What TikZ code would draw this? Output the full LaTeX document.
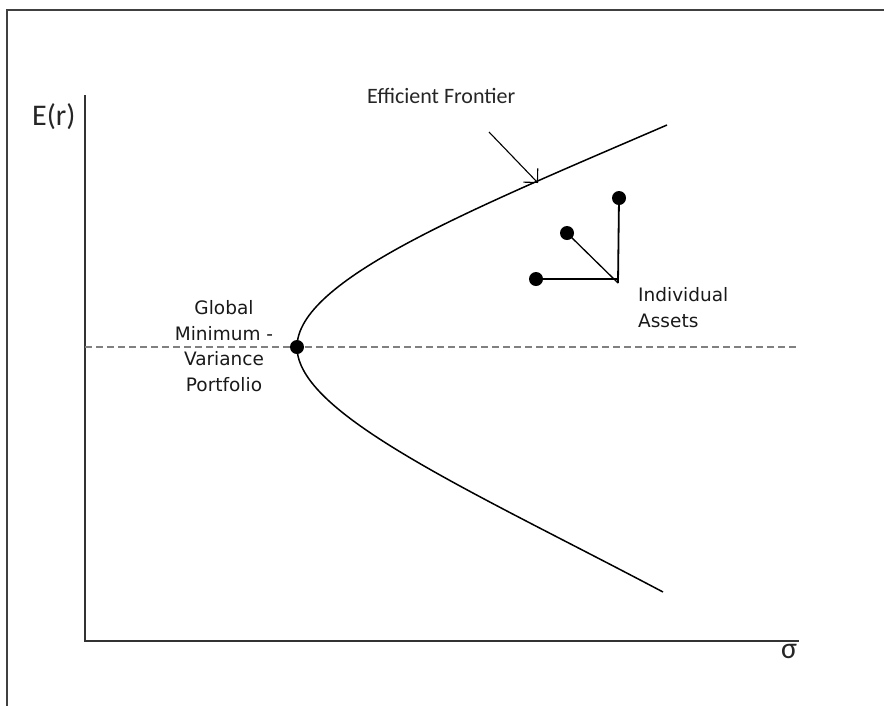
\documentclass[tikz,border=0pt]{standalone}
\usepackage{fontspec}
\newfontfamily\calib{Carlito}
\newfontfamily\tah{DejaVu Sans}
\usetikzlibrary{arrows.meta}
\tikzset{
  frameline/.style={line width=2pt, draw=black!75},
  axisline/.style={line width=2pt, draw=black!80},
  curveline/.style={line width=1.5pt, draw=black},
  dashline/.style={line width=1.3pt, draw=black!50, dash pattern=on 7pt off 4pt},
  dot/.style={circle, fill=black, inner sep=0pt, minimum size=14pt},
  smalltext/.style={font=\tah\fontsize{18.5}{25.5}\selectfont, inner sep=0pt, text=black!90},
  bigtext/.style={font=\calib\fontsize{30}{36}\selectfont, inner sep=0pt, text=black!85},
  eftext/.style={font=\calib\fontsize{22}{26}\selectfont, inner sep=0pt, text=black!85},
  assetline/.style={line width=1.8pt, draw=black}
}
\begin{document}
\begin{tikzpicture}[x=1pt,y=-1pt]
\useasboundingbox (0,0) rectangle (884,705);
% frame (left and top edges visible)
\draw[frameline] (7,720) -- (7,10) -- (900,10);
% axes
\coordinate (ytop) at (85,95);
\coordinate (orig) at (85,641);
\coordinate (xend) at (799,641);
\draw[axisline] (ytop) -- (orig) -- (xend);
\node[bigtext, anchor=base west] (ylab) at (32,125) {E(r)};
\node[bigtext, anchor=center] (xlab) at (789,651) {σ};
% dashed line
\coordinate (dl) at (85,347);
\coordinate (dr) at (797,347);
\draw[dashline] (dl) -- (dr);
% GMV point
\node[dot] (gmv) at (297,347) {};
% frontier
\coordinate (upEnd) at (667,125);
\coordinate (loEnd) at (663,592);
\draw[curveline] (upEnd) .. controls (470,210) and (297,280) .. (gmv.center)
  .. controls (297,414) and (470,490) .. (loEnd);
\node[smalltext, align=center] (gmvlab) at (224,346) {Global\\Minimum -\\Variance\\Portfolio};
% efficient frontier label and arrow
\node[eftext, anchor=base west] (ef) at (367,103) {Efficient Frontier};
\coordinate (efStart) at (489,132);
\coordinate (efTip) at (538,183);
\draw[line width=1.1pt, -{Straight Barb[angle=90:14pt]}] (efStart) -- (efTip);
% individual assets
\coordinate (corner) at (618,283);
\node[dot] (a1) at (536,279) {};
\node[dot] (a2) at (567,233) {};
\node[dot] (a3) at (619,198) {};
\draw[assetline] (a1.center) -- (a1.center -| corner) -- (corner);
\draw[line width=1.3pt] (a2.center) -- (corner);
\draw[assetline] (a3.center) -- (corner);
\node[smalltext, align=left, anchor=west] (ialab) at (638,307.5) {Individual\\Assets};
\end{tikzpicture}
\end{document}
